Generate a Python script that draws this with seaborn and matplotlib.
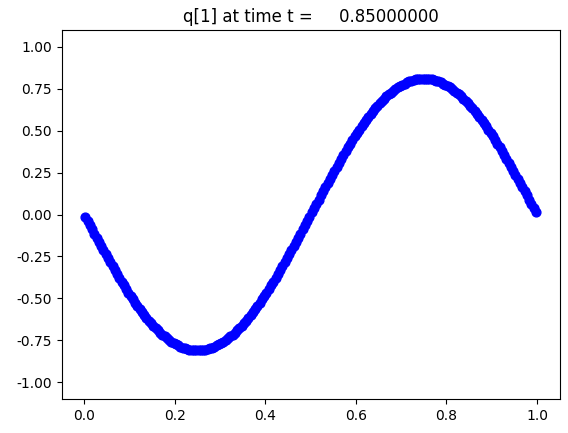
import matplotlib
matplotlib.use("Agg")
import matplotlib.pyplot as plt
import seaborn as sns
import pandas as pd

title_text = "q[1] at time t =     0.85000000"

# 200 cell centres on [0, 1]
n_cells = 200
x_vals = [(i + 0.5) / n_cells for i in range(n_cells)]

q_vals = [
    # 0.00 - 0.25
    -0.013, -0.038, -0.064, -0.089, -0.114, -0.139, -0.164, -0.189, -0.214, -0.238,
    -0.262, -0.286, -0.310, -0.333, -0.356, -0.379, -0.401, -0.423, -0.445, -0.466,
    -0.486, -0.506, -0.526, -0.545, -0.564, -0.582, -0.599, -0.616, -0.632, -0.648,
    -0.663, -0.677, -0.691, -0.704, -0.716, -0.727, -0.738, -0.748, -0.758, -0.766,
    -0.774, -0.781, -0.788, -0.793, -0.798, -0.802, -0.805, -0.808, -0.809, -0.810,
    # 0.25 - 0.50
    -0.810, -0.809, -0.808, -0.805, -0.802, -0.798, -0.793, -0.788, -0.781, -0.774,
    -0.766, -0.758, -0.748, -0.738, -0.727, -0.716, -0.704, -0.691, -0.677, -0.663,
    -0.648, -0.632, -0.616, -0.599, -0.582, -0.564, -0.545, -0.526, -0.506, -0.486,
    -0.466, -0.445, -0.423, -0.401, -0.379, -0.356, -0.333, -0.310, -0.286, -0.262,
    -0.238, -0.214, -0.189, -0.164, -0.139, -0.114, -0.089, -0.064, -0.038, -0.013,
    # 0.50 - 0.75
    0.013, 0.038, 0.064, 0.089, 0.114, 0.139, 0.164, 0.189, 0.214, 0.238,
    0.262, 0.286, 0.310, 0.333, 0.356, 0.379, 0.401, 0.423, 0.445, 0.466,
    0.486, 0.506, 0.526, 0.545, 0.564, 0.582, 0.599, 0.616, 0.632, 0.648,
    0.663, 0.677, 0.691, 0.704, 0.716, 0.727, 0.738, 0.748, 0.758, 0.766,
    0.774, 0.781, 0.788, 0.793, 0.798, 0.802, 0.805, 0.808, 0.809, 0.810,
    # 0.75 - 1.00
    0.810, 0.809, 0.808, 0.805, 0.802, 0.798, 0.793, 0.788, 0.781, 0.774,
    0.766, 0.758, 0.748, 0.738, 0.727, 0.716, 0.704, 0.691, 0.677, 0.663,
    0.648, 0.632, 0.616, 0.599, 0.582, 0.564, 0.545, 0.526, 0.506, 0.486,
    0.466, 0.445, 0.423, 0.401, 0.379, 0.356, 0.333, 0.310, 0.286, 0.262,
    0.238, 0.214, 0.189, 0.164, 0.139, 0.114, 0.089, 0.064, 0.038, 0.013,
]

df = pd.DataFrame({"x": x_vals, "q": q_vals})

fig = plt.figure(figsize=(5.68, 4.33), dpi=100)
ax = fig.add_axes([61.6 / 568, 34 / 433, 498 / 568, 369 / 433])

sns.scatterplot(data=df, x="x", y="q", ax=ax, color="blue", marker="o",
                s=40, edgecolor="blue", linewidth=1, zorder=3)

ax.set_xlim(-0.05, 1.05)
ax.set_ylim(-1.1, 1.1)
ax.set_xticks([0.0, 0.2, 0.4, 0.6, 0.8, 1.0])
ax.set_yticks([-1.0, -0.75, -0.5, -0.25, 0.0, 0.25, 0.5, 0.75, 1.0])
ax.set_yticklabels(["-1.00", "-0.75", "-0.50", "-0.25", "0.00", "0.25", "0.50", "0.75", "1.00"])
ax.set_xlabel("")
ax.set_ylabel("")
ax.set_title(title_text, fontsize=12)

fig.savefig("out.png", dpi=100)
